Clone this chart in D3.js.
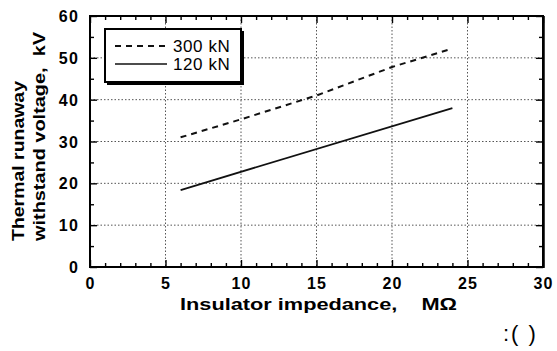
<!DOCTYPE html>
<html><head><meta charset="utf-8">
<script src="https://cdn.jsdelivr.net/npm/d3@7"></script>
<style>
body{margin:0;background:#fff;}
svg{display:block;font-family:"Liberation Sans",Arial,Helvetica,sans-serif;}
</style></head>
<body><svg id="c" width="557" height="351"></svg>
<script>
// Data
const seriesNames = ["300 kN", "120 kN"];
const impedance300 = [6, 10, 15, 20, 23.8];
const voltage300   = [31, 35.3, 41, 47.8, 52];
const impedance120 = [6, 24];
const voltage120   = [18.4, 38];
const xTickLabels = [0, 5, 10, 15, 20, 25, 30];
const yTickLabels = [0, 10, 20, 30, 40, 50, 60];

const svg = d3.select("#c");
const L = 90, R = 543, T = 16, B = 267;
const x = d3.scaleLinear().domain([0, 30]).range([L, R]);
const y = d3.scaleLinear().domain([0, 60]).range([B, T]);

// grid
const grid = svg.append("g").attr("stroke", "#555").attr("stroke-width", 1).attr("stroke-dasharray", "1.5,2");
[5,10,15,20,25].forEach(v => grid.append("line").attr("x1", x(v)).attr("x2", x(v)).attr("y1", T).attr("y2", B));
[10,20,30,40,50].forEach(v => grid.append("line").attr("y1", y(v)).attr("y2", y(v)).attr("x1", L).attr("x2", R));

// axes with inward ticks
const fmt = () => "";
const xMinor = d3.range(0, 31, 1);
const yMinor = d3.range(0, 61, 5);
function tickLen(v, major) { return v % major === 0 ? 7 : 4; }
const xb = svg.append("g").attr("transform", `translate(0,${B})`)
  .call(d3.axisBottom(x).tickValues(xMinor).tickFormat(fmt).tickSizeOuter(0));
xb.selectAll(".tick line").attr("y2", d => -tickLen(d, 5)).attr("stroke-width", 1.4);
const xt = svg.append("g").attr("transform", `translate(0,${T})`)
  .call(d3.axisTop(x).tickValues(xMinor).tickFormat(fmt).tickSizeOuter(0));
xt.selectAll(".tick line").attr("y2", d => tickLen(d, 5)).attr("stroke-width", 1.4);
const yl = svg.append("g").attr("transform", `translate(${L},0)`)
  .call(d3.axisLeft(y).tickValues(yMinor).tickFormat(fmt).tickSizeOuter(0));
yl.selectAll(".tick line").attr("x2", d => tickLen(d, 10)).attr("stroke-width", 1.4);
const yr = svg.append("g").attr("transform", `translate(${R},0)`)
  .call(d3.axisRight(y).tickValues(yMinor).tickFormat(fmt).tickSizeOuter(0));
yr.selectAll(".tick line").attr("x2", d => -tickLen(d, 10)).attr("stroke-width", 1.4);
svg.selectAll(".domain").remove();

// frame
svg.append("rect").attr("x", L).attr("y", T).attr("width", R - L).attr("height", B - T)
  .attr("fill", "none").attr("stroke", "#000").attr("stroke-width", 2);
svg.append("line").attr("x1", R + 1).attr("x2", R + 1).attr("y1", T).attr("y2", B + 1).attr("stroke", "#000").attr("stroke-width", 1.5);

// tick labels
svg.append("g").selectAll("text").data(xTickLabels).join("text")
  .attr("x", d => x(d) + 0.5).attr("y", 288.5).attr("text-anchor", "middle")
  .attr("font-size", 16).attr("font-weight", "bold").attr("letter-spacing", 1.2)
  .text(d => d);
svg.append("g").selectAll("text").data(yTickLabels).join("text")
  .attr("x", 79).attr("y", d => y(d) + 6).attr("text-anchor", "end")
  .attr("font-size", 16).attr("font-weight", "bold").attr("letter-spacing", 1.2)
  .text(d => d);

// lines
const line = d3.line().x(d => x(d[0])).y(d => y(d[1]));
svg.append("path").datum(d3.zip(impedance300, voltage300)).attr("d", line)
  .attr("fill", "none").attr("stroke", "#111").attr("stroke-width", 2).attr("stroke-dasharray", "6,5");
svg.append("path").datum(d3.zip(impedance120, voltage120)).attr("d", line)
  .attr("fill", "none").attr("stroke", "#111").attr("stroke-width", 1.8);

// legend
svg.append("rect").attr("x", 107).attr("y", 31).attr("width", 137).attr("height", 54)
  .attr("fill", "#000");
svg.append("rect").attr("x", 105).attr("y", 29).attr("width", 136).attr("height", 53)
  .attr("fill", "#fff").attr("stroke", "#000").attr("stroke-width", 2);
const lg = svg.append("g");
seriesNames.forEach((n, i) => {
  const yy = i === 0 ? 46 : 64;
  lg.append("line").attr("x1", 115).attr("x2", 167).attr("y1", yy).attr("y2", yy)
    .attr("stroke", "#111").attr("stroke-width", i === 0 ? 2 : 1.5)
    .attr("stroke-dasharray", i === 0 ? "6,5" : null);
  lg.append("text").attr("x", 173).attr("y", yy + 6).attr("font-size", 17)
    .attr("letter-spacing", 0.6).text(n);
});

// axis titles
svg.append("text").attr("x", 180).attr("y", 310).attr("font-size", 16).attr("font-weight", "bold")
  .attr("xml:space", "preserve").attr("textLength", 277).attr("lengthAdjust", "spacingAndGlyphs")
  .text("Insulator impedance,    MΩ");
svg.append("text").attr("transform", "translate(24,241) rotate(-90)").attr("font-size", 17)
  .attr("font-weight", "bold").attr("textLength", 160).attr("lengthAdjust", "spacingAndGlyphs")
  .text("Thermal runaway");
svg.append("text").attr("transform", "translate(45,241) rotate(-90)").attr("font-size", 17)
  .attr("font-weight", "bold").attr("xml:space", "preserve").attr("textLength", 209).attr("lengthAdjust", "spacingAndGlyphs")
  .text("withstand voltage,  kV");

svg.append("text").attr("x", 503).attr("y", 341).attr("font-size", 22)
  .attr("xml:space", "preserve").attr("letter-spacing", 2).text(":( )");
</script></body></html>
